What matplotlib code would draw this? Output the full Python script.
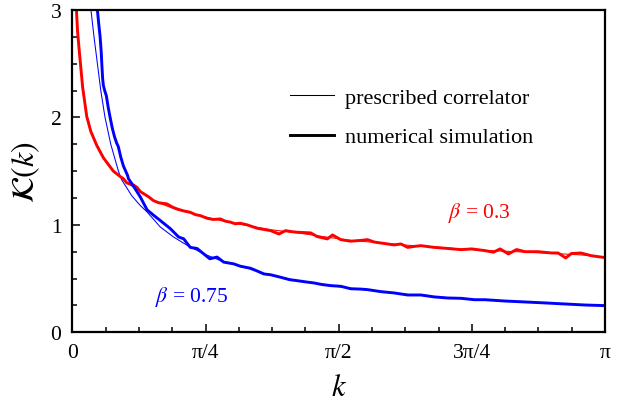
import matplotlib
matplotlib.use("Agg")
import matplotlib.pyplot as plt
from matplotlib.lines import Line2D
from matplotlib.ticker import MultipleLocator
import numpy as np

plt.rcParams["font.family"] = ["Liberation Serif", "DejaVu Serif"]
plt.rcParams["mathtext.fontset"] = "stix"

# prescribed correlator, beta = 0.3
k_pres_red = [0.02, 0.03, 0.04, 0.05, 0.06, 0.084, 0.108, 0.143, 0.182, 0.241,
              0.281, 0.321, 0.38, 0.439, 0.478, 0.557, 0.617, 0.695, 0.754, 0.873,
              0.99, 1.169, 1.327, 1.504, 1.642, 1.82, 1.978, 2.135, 2.293, 2.434,
              2.62, 2.826, 3.0, 3.1416]
K_pres_red = [3.10, 2.80, 2.62, 2.45, 2.30, 2.03, 1.88, 1.75, 1.63, 1.50,
              1.45, 1.39, 1.33, 1.27, 1.225, 1.175, 1.14, 1.11, 1.085, 1.04,
              1.005, 0.955, 0.925, 0.885, 0.855, 0.832, 0.81, 0.795, 0.775, 0.762,
              0.75, 0.735, 0.72, 0.70]

# numerical simulation, beta = 0.3
k_sim_red = [0.02, 0.03, 0.04, 0.05, 0.06, 0.084, 0.108, 0.143, 0.182, 0.215,
             0.241, 0.281, 0.30, 0.321, 0.34, 0.36, 0.38, 0.40, 0.42, 0.45,
             0.478, 0.51, 0.557, 0.59, 0.617, 0.655, 0.695, 0.725, 0.754, 0.794,
             0.83, 0.873, 0.90, 0.932, 0.96, 0.99, 1.03, 1.09, 1.169, 1.218,
             1.257, 1.30, 1.327, 1.405, 1.445, 1.504, 1.534, 1.583, 1.642, 1.70,
             1.741, 1.78, 1.82, 1.898, 1.938, 1.978, 2.02, 2.056, 2.135, 2.214,
             2.293, 2.355, 2.434, 2.484, 2.523, 2.572, 2.62, 2.67, 2.748, 2.826,
             2.865, 2.91, 2.944, 3.0, 3.06, 3.1416]
K_sim_red = [3.10, 2.80, 2.62, 2.45, 2.28, 2.01, 1.87, 1.74, 1.625, 1.555,
             1.50, 1.45, 1.43, 1.39, 1.38, 1.37, 1.35, 1.31, 1.29, 1.26,
             1.225, 1.205, 1.195, 1.165, 1.148, 1.13, 1.117, 1.095, 1.086, 1.061,
             1.05, 1.055, 1.035, 1.025, 1.01, 1.015, 1.0, 0.968, 0.946, 0.915,
             0.946, 0.935, 0.931, 0.925, 0.89, 0.869, 0.906, 0.862, 0.848, 0.855,
             0.862, 0.84, 0.831, 0.813, 0.822, 0.79, 0.80, 0.806, 0.79, 0.78,
             0.769, 0.776, 0.76, 0.745, 0.776, 0.729, 0.77, 0.75, 0.75, 0.738,
             0.738, 0.692, 0.733, 0.738, 0.713, 0.695]

# prescribed correlator, beta = 0.75
k_pres_blue = [0.105, 0.109, 0.127, 0.147, 0.167, 0.192, 0.226, 0.271, 0.29, 0.35,
               0.40, 0.44, 0.518, 0.596, 0.676, 0.774, 0.873, 0.99, 1.05, 1.129,
               1.228, 1.327, 1.425, 1.524, 1.642, 1.741, 1.82, 1.898, 1.978, 2.056,
               2.135, 2.214, 2.293, 2.372, 2.55, 2.67, 2.79, 2.91, 3.02, 3.1416]
K_pres_blue = [3.10, 3.00, 2.75, 2.50, 2.25, 2.00, 1.75, 1.50, 1.42, 1.27,
               1.18, 1.12, 0.98, 0.887, 0.81, 0.73, 0.668, 0.615, 0.588, 0.548,
               0.512, 0.48, 0.457, 0.434, 0.41, 0.393, 0.378, 0.366, 0.352, 0.343,
               0.332, 0.322, 0.314, 0.305, 0.29, 0.281, 0.272, 0.263, 0.255, 0.247]

# numerical simulation, beta = 0.75
k_sim_blue = [0.145, 0.147, 0.155, 0.163, 0.17, 0.173, 0.178, 0.182, 0.19, 0.20,
              0.21, 0.222, 0.235, 0.248, 0.261, 0.27, 0.285, 0.30, 0.311, 0.325,
              0.33, 0.36, 0.40, 0.44, 0.478, 0.518, 0.577, 0.626, 0.656, 0.695,
              0.735, 0.774, 0.81, 0.853, 0.892, 0.951, 0.99, 1.05, 1.09, 1.129,
              1.17, 1.228, 1.28, 1.327, 1.38, 1.425, 1.47, 1.524, 1.583, 1.642,
              1.70, 1.741, 1.82, 1.898, 1.978, 2.056, 2.135, 2.214, 2.293, 2.372,
              2.434, 2.55, 2.67, 2.79, 2.91, 3.02, 3.1416]
K_sim_blue = [3.05, 3.0, 2.87, 2.75, 2.60, 2.50, 2.36, 2.30, 2.25, 2.20,
              2.10, 2.0, 1.90, 1.82, 1.76, 1.73, 1.63, 1.55, 1.51, 1.46,
              1.43, 1.36, 1.26, 1.14, 1.09, 1.04, 0.965, 0.887, 0.87, 0.79,
              0.78, 0.73, 0.684, 0.70, 0.653, 0.637, 0.615, 0.596, 0.57, 0.543,
              0.535, 0.512, 0.49, 0.48, 0.468, 0.459, 0.445, 0.434, 0.428, 0.405,
              0.402, 0.397, 0.378, 0.366, 0.347, 0.347, 0.329, 0.319, 0.316, 0.303,
              0.303, 0.291, 0.282, 0.273, 0.263, 0.254, 0.248]

x_ticks = [0, np.pi / 4, np.pi / 2, 3 * np.pi / 4, np.pi]
x_labels = ["0", "π/4", "π/2", "3π/4", "π"]
y_ticks = [0, 1, 2, 3]

fig = plt.figure(figsize=(6.33, 4.14), dpi=100)
ax = fig.add_axes([0.1145, 0.195, 0.8412, 0.7785])

thin = 0.75
thick = 2.1
style = dict(solid_joinstyle="round", solid_capstyle="round")
ax.plot(k_pres_red, K_pres_red, color="red", lw=thin, **style)
ax.plot(k_pres_blue, K_pres_blue, color="blue", lw=thin, **style)
ax.plot(k_sim_red, K_sim_red, color="red", lw=thick, **style)
ax.plot(k_sim_blue, K_sim_blue, color="blue", lw=thick, **style)

ax.set_xlim(0, np.pi)
ax.set_ylim(0, 3)
ax.set_xticks(x_ticks)
ax.set_xticklabels(x_labels)
ax.set_yticks(y_ticks)
ax.xaxis.set_minor_locator(MultipleLocator(np.pi / 16))
ax.yaxis.set_minor_locator(MultipleLocator(0.25))
ax.tick_params(which="both", direction="in", top=False, right=False, width=1.1)
ax.tick_params(which="major", length=6, labelsize=15.5, pad=8)
ax.tick_params(which="minor", length=3.5)
for sp in ax.spines.values():
    sp.set_linewidth(1.6)

ax.set_xlabel("$k$", fontsize=22, labelpad=8)
ax.set_ylabel(r"$\mathcal{K}(k)$", fontsize=23, labelpad=6)

ax.text(2.40, 1.12, r"$\beta$ = 0.3", color="red", fontsize=15.5,
        ha="center", va="center")
ax.text(0.705, 0.34, r"$\beta$ = 0.75", color="blue", fontsize=15.5,
        ha="center", va="center")

handles = [Line2D([], [], color="black", lw=thin),
           Line2D([], [], color="black", lw=thick)]
ax.legend(handles, ["prescribed correlator", "numerical simulation"],
          loc="upper left", bbox_to_anchor=(0.408, 0.76), frameon=False,
          fontsize=16, handlelength=2.0, handletextpad=0.5,
          labelspacing=0.85, borderpad=0, borderaxespad=0)

fig.savefig("out.png", dpi=100)
